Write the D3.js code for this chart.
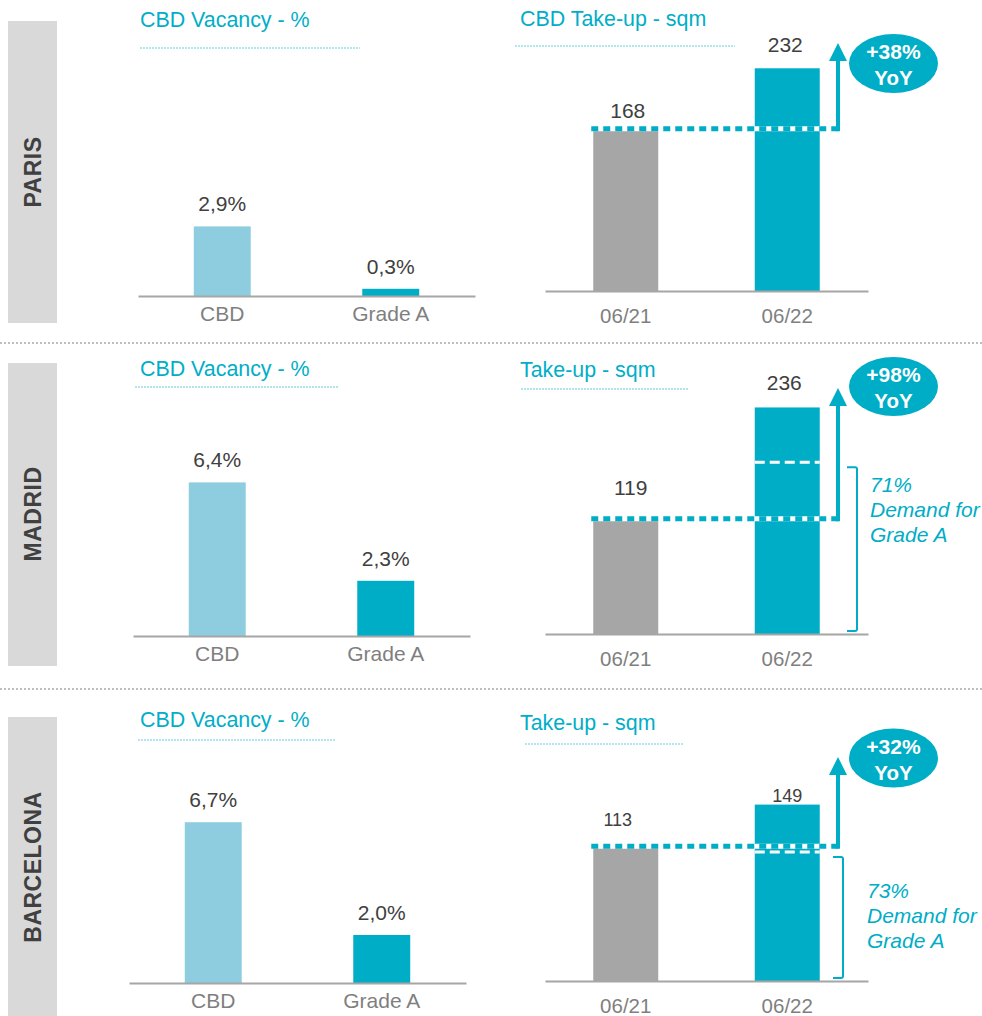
<!DOCTYPE html>
<html lang="en">
<head>
    <meta charset="UTF-8">
    <title>Office market - Paris, Madrid, Barcelona</title>
    <script src="https://d3js.org/d3.v7.min.js"></script>
    <style>
        body {
            margin: 0;
            background-color: #ffffff;
            font-family: "Liberation Sans", Arial, sans-serif;
        }
        #chart svg {
            display: block;
        }
        .axis .domain {
            stroke: #a6a6a6;
            stroke-width: 2px;
        }
        .axis text {
            font-family: "Liberation Sans", Arial, sans-serif;
            font-size: 20.5px;
            fill: #7f7f7f;
        }
        .title {
            font-size: 21.4px;
            fill: #00aec7;
        }
        .value {
            font-size: 21px;
            fill: #404040;
        }
    </style>
</head>
<body>
    <div id="chart"></div>
    <script>
        // data
        const cities = ["PARIS", "MADRID", "BARCELONA"];
        const vacancyTitles = ["CBD Vacancy - %", "CBD Vacancy - %", "CBD Vacancy - %"];
        const vacancyCats = ["CBD", "Grade A"];
        const vacancyValues = [[2.9, 0.3], [6.4, 2.3], [6.7, 2.0]];
        const vacancyLabels = [["2,9%", "0,3%"], ["6,4%", "2,3%"], ["6,7%", "2,0%"]];
        const takeupTitles = ["CBD Take-up - sqm", "Take-up - sqm", "Take-up - sqm"];
        const periods = ["06/21", "06/22"];
        const takeupValues = [[168, 232], [119, 236], [113, 149]];
        const yoyLabels = ["+38%", "+98%", "+32%"];
        const gradeAShare = [null, "71%", "73%"];
        const gradeALevel = [null, 179, 109];

        // layout of each city panel
        const layout = [
            { side: [21, 323], sideY: 172, vacX: 138, vacAxis: 296, vacTitleY: 27, vacLineY: 48, vacLine: [140, 360],
              tuAxis: 291, tuH: 240, tuTitleY: 26, tuLineY: 46, tuLine: [515, 735], badgeY: 63.5, tipY: 43,
              lblDy: [-12, -16], lblDx: [2, -2], lblSize: 21, braceX: 0, textX: 0, textY: 0 },
            { side: [363, 666], sideY: 514, vacX: 133, vacAxis: 636, vacTitleY: 376, vacLineY: 387, vacLine: [135, 339],
              tuAxis: 634, tuH: 240, tuTitleY: 377, tuLineY: 389, tuLine: [521, 688], badgeY: 386.5, tipY: 388,
              lblDy: [-25, -17], lblDx: [5, -3], lblSize: 21, braceX: 857, textX: 870, textY: 492 },
            { side: [717, 1030], sideY: 867, vacX: 129, vacAxis: 983, vacTitleY: 727, vacLineY: 740, vacLine: [138, 335],
              tuAxis: 981, tuH: 296, tuTitleY: 730, tuLineY: 744, tuLine: [525, 683], badgeY: 758, tipY: 757,
              lblDy: [-21, -3], lblDx: [-8, 0], lblSize: 18, braceX: 843, textX: 867, textY: 898 }
        ];
        const separators = [343, 689];

        const teal = "#00adc6";
        const lightBlue = "#8ecddf";
        const grey = "#a6a6a6";

        const width = 982, height = 1016;
        const svg = d3.select("#chart").append("svg")
            .attr("width", width)
            .attr("height", height);

        svg.selectAll("line.sep")
            .data(separators)
            .enter().append("line")
            .attr("class", "sep")
            .attr("x1", 0).attr("x2", width)
            .attr("y1", d => d).attr("y2", d => d)
            .attr("stroke", "#bfbfbf")
            .attr("stroke-width", 2)
            .attr("stroke-dasharray", "2,2");

        cities.forEach((city, i) => {
            const L = layout[i];
            const g = svg.append("g");

            // city label block
            g.append("rect")
                .attr("x", 8).attr("y", L.side[0])
                .attr("width", 49).attr("height", L.side[1] - L.side[0])
                .attr("fill", "#d9d9d9");
            g.append("text")
                .attr("transform", `translate(33,${L.sideY}) rotate(-90)`)
                .attr("text-anchor", "middle")
                .attr("dy", "0.36em")
                .attr("font-size", 23)
                .attr("font-weight", "bold")
                .attr("letter-spacing", 0.5)
                .attr("fill", "#404040")
                .text(city);

            // ---- vacancy chart
            g.append("text").attr("class", "title")
                .attr("x", 140).attr("y", L.vacTitleY)
                .text(vacancyTitles[i]);
            g.append("line")
                .attr("x1", L.vacLine[0]).attr("x2", L.vacLine[1])
                .attr("y1", L.vacLineY).attr("y2", L.vacLineY)
                .attr("stroke", "#66cbdb").attr("stroke-width", 1)
                .attr("stroke-dasharray", "2,1");

            const xv = d3.scaleBand().domain(vacancyCats)
                .range([L.vacX, L.vacX + 337])
                .paddingInner(0.662).paddingOuter(0.331);
            const yv = d3.scaleLinear().domain([0, 8]).range([L.vacAxis, L.vacAxis - 192]);

            g.selectAll("rect.vac")
                .data(vacancyValues[i])
                .enter().append("rect")
                .attr("class", "vac")
                .attr("x", (d, j) => xv(vacancyCats[j]))
                .attr("width", xv.bandwidth())
                .attr("y", d => yv(d))
                .attr("height", d => L.vacAxis - yv(d))
                .attr("fill", (d, j) => j === 0 ? lightBlue : teal);

            g.selectAll("text.vlab")
                .data(vacancyValues[i])
                .enter().append("text")
                .attr("class", "value vlab")
                .attr("text-anchor", "middle")
                .attr("x", (d, j) => xv(vacancyCats[j]) + xv.bandwidth() / 2)
                .attr("y", d => yv(d) - 15)
                .text((d, j) => vacancyLabels[i][j]);

            const axV = g.append("g").attr("class", "axis")
                .attr("transform", `translate(0,${L.vacAxis})`)
                .call(d3.axisBottom(xv).tickSize(0).tickSizeOuter(0));
            axV.selectAll("text").attr("dy", null).attr("y", 25).style("font-size", "21px");

            // ---- take-up chart
            g.append("text").attr("class", "title")
                .attr("x", 520).attr("y", L.tuTitleY)
                .text(takeupTitles[i]);
            g.append("line")
                .attr("x1", L.tuLine[0]).attr("x2", L.tuLine[1])
                .attr("y1", L.tuLineY).attr("y2", L.tuLineY)
                .attr("stroke", "#66cbdb").attr("stroke-width", 1)
                .attr("stroke-dasharray", "2,1");

            const xt = d3.scaleBand().domain(periods)
                .range([545, 868])
                .paddingInner(0.5975).paddingOuter(0.29875);
            const yt = d3.scaleLinear().domain([0, 250]).range([L.tuAxis, L.tuAxis - L.tuH]);
            const vals = takeupValues[i];

            g.selectAll("rect.tu")
                .data(vals)
                .enter().append("rect")
                .attr("class", "tu")
                .attr("x", (d, j) => xt(periods[j]))
                .attr("width", xt.bandwidth())
                .attr("y", d => yt(d))
                .attr("height", d => L.tuAxis - yt(d))
                .attr("fill", (d, j) => j === 0 ? grey : teal);

            g.selectAll("text.tlab")
                .data(vals)
                .enter().append("text")
                .attr("class", "value tlab")
                .style("font-size", L.lblSize + "px")
                .attr("text-anchor", "middle")
                .attr("x", (d, j) => xt(periods[j]) + xt.bandwidth() / 2 + L.lblDx[j])
                .attr("y", (d, j) => yt(d) + L.lblDy[j])
                .text(d => d);

            const arrowX = 838;

            // grade A demand level inside the 06/22 bar
            if (gradeALevel[i] !== null) {
                const gy = yt(gradeALevel[i]);
                g.append("line")
                    .attr("x1", xt(periods[1])).attr("x2", xt(periods[1]) + xt.bandwidth())
                    .attr("y1", gy).attr("y2", gy)
                    .attr("stroke", "#ffffff").attr("stroke-width", 3)
                    .attr("stroke-dasharray", "10,5");

                const bx = L.braceX, top = gy + 5, bot = L.tuAxis - 3;
                g.append("path")
                    .attr("d", `M${bx - 10},${top} L${bx - 2},${top} Q${bx},${top} ${bx},${top + 2}
                                L${bx},${bot - 2} Q${bx},${bot} ${bx - 2},${bot} L${bx - 10},${bot}`)
                    .attr("fill", "none")
                    .attr("stroke", teal).attr("stroke-width", 2);

                const t = g.append("text")
                    .attr("x", L.textX).attr("y", L.textY)
                    .attr("font-size", 21)
                    .attr("font-style", "italic")
                    .attr("fill", teal);
                [gradeAShare[i], "Demand for", "Grade A"].forEach((s, k) => {
                    t.append("tspan").attr("x", L.textX).attr("dy", k === 0 ? 0 : 25).text(s);
                });
            }

            // dotted reference line at last year's level
            const ry = yt(vals[0]) - 1;
            const x0 = xt(periods[0]) - 2;
            g.append("line")
                .attr("x1", x0).attr("x2", arrowX + 2)
                .attr("y1", ry).attr("y2", ry)
                .attr("stroke", "#ffffff").attr("stroke-width", 5);
            g.append("line")
                .attr("x1", x0).attr("x2", arrowX + 2)
                .attr("y1", ry).attr("y2", ry)
                .attr("stroke", teal).attr("stroke-width", 5)
                .attr("stroke-dasharray", "7,5");

            // growth arrow
            g.append("line")
                .attr("x1", arrowX).attr("x2", arrowX)
                .attr("y1", ry + 2.5).attr("y2", L.tipY + 16)
                .attr("stroke", teal).attr("stroke-width", 4);
            g.append("path")
                .attr("d", `M${arrowX - 9},${L.tipY + 18} L${arrowX},${L.tipY} L${arrowX + 9},${L.tipY + 18} Z`)
                .attr("fill", teal);

            // YoY badge
            g.append("ellipse")
                .attr("cx", 893.5).attr("cy", L.badgeY)
                .attr("rx", 44.5).attr("ry", 29.5)
                .attr("fill", teal);
            g.append("text")
                .attr("x", 893.5).attr("y", L.badgeY - 4.5)
                .attr("text-anchor", "middle")
                .attr("font-size", 21).attr("font-weight", "bold")
                .attr("fill", "#ffffff")
                .text(yoyLabels[i]);
            g.append("text")
                .attr("x", 893.5).attr("y", L.badgeY + 21.5)
                .attr("text-anchor", "middle")
                .attr("font-size", 20.5).attr("font-weight", "bold")
                .attr("fill", "#ffffff")
                .text("YoY");

            const axT = g.append("g").attr("class", "axis")
                .attr("transform", `translate(0,${L.tuAxis})`)
                .call(d3.axisBottom(xt).tickSize(0).tickSizeOuter(0));
            axT.selectAll("text").attr("dy", null).attr("y", 32);
        });
    </script>
</body>
</html>
